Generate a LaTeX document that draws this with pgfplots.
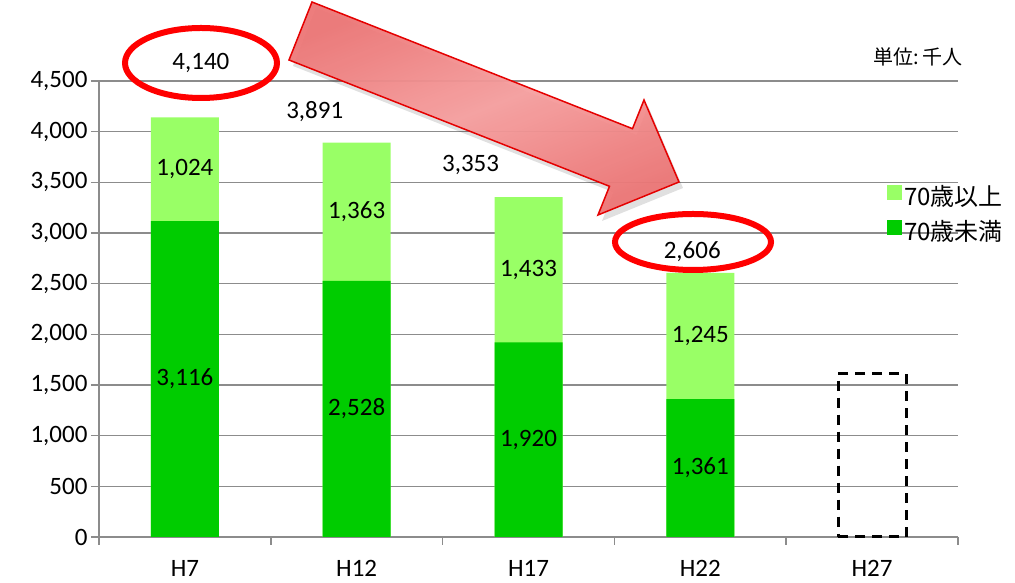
\documentclass[border=0pt]{standalone}
\usepackage{pgfplots}
\pgfplotsset{compat=1.18}
\usepackage{fontspec}
\setmainfont{Carlito}
\newfontfamily\jp{Noto Sans CJK JP}
\definecolor{lg}{RGB}{153,255,102}
\definecolor{dg}{RGB}{0,204,0}
\definecolor{gr}{RGB}{140,140,140}
\definecolor{arrowred}{RGB}{236,118,118}
\definecolor{arrowlight}{RGB}{246,160,160}
\newcommand\ytl[1]{{\fontsize{25}{27}\selectfont #1}}
\pgfplotsset{sqlegend/.style={legend image code/.code={\fill[#1] (0pt,-4pt) rectangle (15pt,11pt);}}}
\tikzset{lab/.style={font=\fontsize{25}{27}\selectfont, text=black}}
\begin{document}
\begin{tikzpicture}[x=1pt,y=1pt]
\useasboundingbox (0,0) rectangle (1015,583);
\clip (0,0) rectangle (1015,583);
\begin{axis}[
  at={(99pt,46pt)}, anchor=south west,
  scale only axis, width=859pt, height=456pt,
  ybar, bar width=68pt, bar shift=0pt,
  xmin=-0.5, xmax=4.5, ymin=0, ymax=4500,
  xtick={-0.5,0.5,1.5,2.5,3.5,4.5}, xticklabels={},
  extra x ticks={0,1,2,3,4}, extra x tick labels={H7,H12,H17,H22,H27},
  extra x tick style={major tick length=0pt, grid=none},
  ytick={0,500,1000,1500,2000,2500,3000,3500,4000,4500},
  yticklabels={\ytl{0},\ytl{500},\ytl{1,000},\ytl{1,500},\ytl{2,000},\ytl{2,500},\ytl{3,000},\ytl{3,500},\ytl{4,000},\ytl{4,500}},
  axis x line*=bottom, axis y line*=left,
  axis line style={gr, line width=1.5pt},
  ymajorgrids, grid style={gr, line width=1.5pt},
  tick style={gr, line width=1.5pt},
  tick align=outside, major tick length=8pt,
  tick label style={font=\fontsize{25}{27}\selectfont, black},
  xticklabel style={yshift=-20pt},
  clip=false,
  legend style={at={(0.9173,0.7094)}, anchor=west, draw=none, fill=none, inner sep=0pt,
    font=\jp\fontsize{24}{26}\selectfont, row sep=9pt,
    /tikz/every even column/.append style={column sep=11pt}},
  sqlegend,
  legend cell align=left,
]
% light green bar = total; the dark green under-70 part is drawn over it
\addplot[fill=lg, draw=none] coordinates {(0,4140) (1,3891) (2,3353) (3,2606)};
\addlegendentry{70歳以上}
\addplot[fill=dg, draw=none] coordinates {(0,3116) (1,2528) (2,1920) (3,1361)};
\addlegendentry{70歳未満}
\addplot[fill=none, draw=black, line width=3pt, dash pattern=on 10pt off 7pt, forget plot] coordinates {(4,1610)};
\node[lab] at (axis cs:0,1558) {3,116};
\node[lab] at (axis cs:0,3628) {1,024};
\node[lab] at (axis cs:1,1264) {2,528};
\node[lab] at (axis cs:1,3209.5) {1,363};
\node[lab] at (axis cs:2,960) {1,920};
\node[lab] at (axis cs:2,2636.5) {1,433};
\node[lab] at (axis cs:3,680.5) {1,361};
\node[lab] at (axis cs:3,1983.5) {1,245};
\node[lab] at (axis cs:0.093,4678) {4,140};
\node[lab] at (axis cs:0.756,4194) {3,891};
\node[lab] at (axis cs:1.663,3671) {3,353};
\node[lab] at (axis cs:2.953,2813) {2,606};
\end{axis}
\fill[black, opacity=0.12] (316,575) -- (293,517) -- (613.5,390.7) -- (602,362) -- (683,395) -- (648,477) -- (636.5,448.3) -- cycle;
\shade[top color=arrowred, bottom color=arrowred, middle color=arrowlight, shading angle=21.7, opacity=0.95]
  (312,581) -- (289,523) -- (609.5,396.7) -- (598,368) -- (679,401) -- (644,483) -- (632.5,454.3) -- cycle;
\draw[red!90!black, line width=1.5pt, line join=miter]
  (312,581) -- (289,523) -- (609.5,396.7) -- (598,368) -- (679,401) -- (644,483) -- (632.5,454.3) -- cycle;
\draw[red, line width=6pt] (201,520) ellipse [x radius=76, y radius=35];
\draw[red, line width=6pt] (693,341) ellipse [x radius=78, y radius=28];
\node[font=\jp\fontsize{20}{22}\selectfont, text=black] at (918,526) {単位:\,千人};
\end{tikzpicture}
\end{document}
